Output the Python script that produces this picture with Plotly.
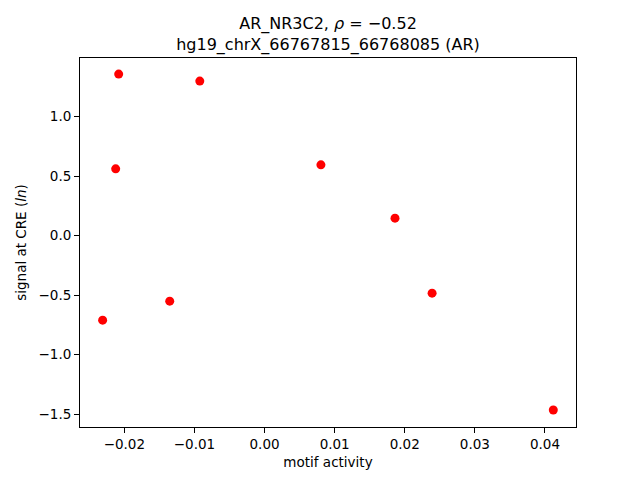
import plotly.graph_objects as go

motif_activity = [-0.02081, -0.00924, -0.02124, 0.00804, 0.01861, -0.02310, -0.01353, 0.02390, 0.04119]
signal = [1.356, 1.297, 0.560, 0.594, 0.146, -0.711, -0.551, -0.484, -1.465]

x_ticks = [-0.02, -0.01, 0.0, 0.01, 0.02, 0.03, 0.04]
x_tick_text = ["−0.02", "−0.01", "0.00", "0.01", "0.02", "0.03", "0.04"]
y_ticks = [-1.5, -1.0, -0.5, 0.0, 0.5, 1.0]
y_tick_text = ["−1.5", "−1.0", "−0.5", "0.0", "0.5", "1.0"]

title_line1 = "AR_NR3C2, <i>ρ</i> = −0.52"
title_line2 = "hg19_chrX_66767815_66768085 (AR)"

font = "DejaVu Sans"

fig = go.Figure()
fig.add_trace(go.Scatter(
    x=motif_activity, y=signal, mode="markers",
    marker=dict(color="#ff0000", size=9, line=dict(width=0)),
    showlegend=False,
))

axis_common = dict(
    showgrid=False, zeroline=False, showline=True, mirror=True,
    linecolor="black", linewidth=1, ticks="outside", ticklen=5,
    tickcolor="black", tickwidth=1, automargin=False,
    tickfont=dict(family=font, size=13.5, color="black"),
)

fig.update_layout(
    width=640, height=480,
    margin=dict(l=80, r=64, t=58, b=53),
    paper_bgcolor="white", plot_bgcolor="white",
    title=dict(
        text=title_line1 + "<br>" + title_line2,
        x=(80 + 576) / 2 / 640, xanchor="center",
        xref="container", yref="container",
        y=(480 - 29) / 480, yanchor="middle",
        font=dict(family=font, size=16, color="black"),
    ),
    xaxis=dict(
        range=[-0.02633, 0.04443], tickvals=x_ticks, ticktext=x_tick_text,
        title=dict(text="motif activity", font=dict(family=font, size=13.5, color="black"), standoff=6),
        **axis_common,
    ),
    yaxis=dict(
        range=[-1.608, 1.491], tickvals=y_ticks, ticktext=y_tick_text,
        title=dict(text="signal at CRE (<i>ln</i>)", font=dict(family=font, size=13.5, color="black"), standoff=8),
        **axis_common,
    ),
)

fig.write_html("out.html", config={"displayModeBar": False},
               post_script="document.body.style.margin='0';")
